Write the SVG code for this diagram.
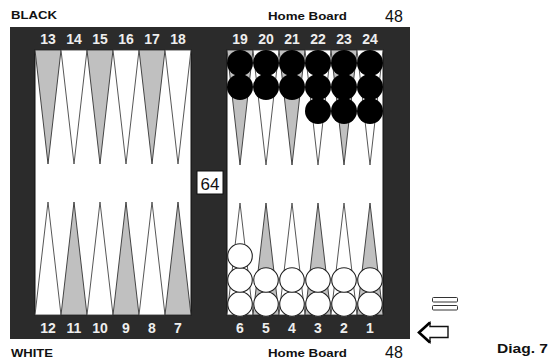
<svg xmlns="http://www.w3.org/2000/svg" width="552" height="360" viewBox="0 0 552 360">
<style>
.lbl{font-family:"Liberation Sans",Arial,sans-serif;font-weight:bold;font-size:11px;fill:#111}
.num{font-family:"Liberation Sans",Arial,sans-serif;font-weight:bold;font-size:14px;fill:#eeeeee;text-anchor:middle}
.pip{font-family:"Liberation Sans",Arial,sans-serif;font-size:16px;fill:#111}
.g{fill:#c0c0c0;stroke:#333;stroke-width:0.9}
.w{fill:#fff;stroke:#444;stroke-width:0.9}
.bk{fill:#000}
.wh{fill:#fff;stroke:#222;stroke-width:1.1}
</style>
<rect width="552" height="360" fill="#fff"/>
<g id="board">
<rect x="10" y="27" width="400" height="312" fill="#2b2b2b"/>
<rect x="35" y="50" width="156" height="265" fill="#fff" stroke="#111" stroke-width="1"/>
<rect x="227" y="50" width="156" height="265" fill="#fff" stroke="#111" stroke-width="1"/>
</g>
<g id="points">
<polygon class="g" points="35,50 61,50 48,164"/>
<polygon class="w" points="61,50 87,50 74,164"/>
<polygon class="g" points="87,50 113,50 100,164"/>
<polygon class="w" points="113,50 139,50 126,164"/>
<polygon class="g" points="139,50 165,50 152,164"/>
<polygon class="w" points="165,50 191,50 178,164"/>
<polygon class="g" points="227,50 253,50 240,165"/>
<polygon class="w" points="253,50 279,50 266,165"/>
<polygon class="g" points="279,50 305,50 292,165"/>
<polygon class="w" points="305,50 331,50 318,165"/>
<polygon class="g" points="331,50 357,50 344,165"/>
<polygon class="w" points="357,50 383,50 370,165"/>
<polygon class="w" points="35,315 61,315 48,202"/>
<polygon class="g" points="61,315 87,315 74,202"/>
<polygon class="w" points="87,315 113,315 100,202"/>
<polygon class="g" points="113,315 139,315 126,202"/>
<polygon class="w" points="139,315 165,315 152,202"/>
<polygon class="g" points="165,315 191,315 178,202"/>
<polygon class="w" points="227,315 253,315 240,203"/>
<polygon class="g" points="253,315 279,315 266,203"/>
<polygon class="w" points="279,315 305,315 292,203"/>
<polygon class="g" points="305,315 331,315 318,203"/>
<polygon class="w" points="331,315 357,315 344,203"/>
<polygon class="g" points="357,315 383,315 370,203"/>
</g>
<g id="point-numbers">
<text class="num" x="48" y="44">13</text>
<text class="num" x="74" y="44">14</text>
<text class="num" x="100" y="44">15</text>
<text class="num" x="126" y="44">16</text>
<text class="num" x="152" y="44">17</text>
<text class="num" x="178" y="44">18</text>
<text class="num" x="240" y="44">19</text>
<text class="num" x="266" y="44">20</text>
<text class="num" x="292" y="44">21</text>
<text class="num" x="318" y="44">22</text>
<text class="num" x="344" y="44">23</text>
<text class="num" x="370" y="44">24</text>
<text class="num" x="48" y="333">12</text>
<text class="num" x="74" y="333">11</text>
<text class="num" x="100" y="333">10</text>
<text class="num" x="126" y="333">9</text>
<text class="num" x="152" y="333">8</text>
<text class="num" x="178" y="333">7</text>
<text class="num" x="240" y="333">6</text>
<text class="num" x="266" y="333">5</text>
<text class="num" x="292" y="333">4</text>
<text class="num" x="318" y="333">3</text>
<text class="num" x="344" y="333">2</text>
<text class="num" x="370" y="333">1</text>
</g>
<g id="black-checkers">
<circle class="bk" cx="240" cy="63" r="13"/>
<circle class="bk" cx="266" cy="63" r="13"/>
<circle class="bk" cx="292" cy="63" r="13"/>
<circle class="bk" cx="318" cy="63" r="13"/>
<circle class="bk" cx="344" cy="63" r="13"/>
<circle class="bk" cx="370" cy="63" r="13"/>
<circle class="bk" cx="240" cy="87" r="13"/>
<circle class="bk" cx="266" cy="87" r="13"/>
<circle class="bk" cx="292" cy="87" r="13"/>
<circle class="bk" cx="318" cy="87" r="13"/>
<circle class="bk" cx="344" cy="87" r="13"/>
<circle class="bk" cx="370" cy="87" r="13"/>
<circle class="bk" cx="318" cy="111" r="13"/>
<circle class="bk" cx="344" cy="111" r="13"/>
<circle class="bk" cx="370" cy="111" r="13"/>
</g>
<g id="white-checkers">
<circle class="wh" cx="240" cy="304" r="12.3"/>
<circle class="wh" cx="266" cy="304" r="12.3"/>
<circle class="wh" cx="292" cy="304" r="12.3"/>
<circle class="wh" cx="318" cy="304" r="12.3"/>
<circle class="wh" cx="344" cy="304" r="12.3"/>
<circle class="wh" cx="370" cy="304" r="12.3"/>
<circle class="wh" cx="240" cy="280" r="12.3"/>
<circle class="wh" cx="266" cy="280" r="12.3"/>
<circle class="wh" cx="292" cy="280" r="12.3"/>
<circle class="wh" cx="318" cy="280" r="12.3"/>
<circle class="wh" cx="344" cy="280" r="12.3"/>
<circle class="wh" cx="370" cy="280" r="12.3"/>
<circle class="wh" cx="240" cy="256" r="12.3"/>
</g>
<g id="cube">
<rect x="197" y="171" width="26" height="23" fill="#fff" stroke="#111" stroke-width="1"/>
<text x="210" y="189.5" text-anchor="middle" style="font-family:'Liberation Sans',Arial,sans-serif;font-size:17px;fill:#111">64</text>
</g>
<g id="labels">
<text class="lbl" x="11" y="19" textLength="46" lengthAdjust="spacingAndGlyphs">BLACK</text>
<text class="lbl" x="268" y="20" textLength="79" lengthAdjust="spacingAndGlyphs">Home Board</text>
<text class="pip" x="385" y="22">48</text>
<text class="lbl" x="11" y="357" textLength="42" lengthAdjust="spacingAndGlyphs">WHITE</text>
<text class="lbl" x="268" y="357" textLength="79" lengthAdjust="spacingAndGlyphs">Home Board</text>
<text class="pip" x="385" y="358">48</text>
<text class="lbl" x="497" y="353" style="font-size:13px" textLength="51" lengthAdjust="spacingAndGlyphs">Diag. 7</text>
</g>
<g id="equals">
<rect x="432.5" y="297.5" width="25" height="4.5" rx="1" fill="#fff" stroke="#333" stroke-width="1"/>
<rect x="432.5" y="305.5" width="25" height="4.5" rx="1" fill="#fff" stroke="#333" stroke-width="1"/>
</g>
<g id="arrow">
<polygon points="419,332.5 430,322.5 430,326.5 448,326.5 448,337.5 430,337.5 430,342.5" fill="#fff" stroke="#111" stroke-width="1.4"/>
<polyline points="430,322.5 419,332.5 430,342.5" fill="none" stroke="#000" stroke-width="2.6" stroke-linejoin="miter"/>
</g>
</svg>
